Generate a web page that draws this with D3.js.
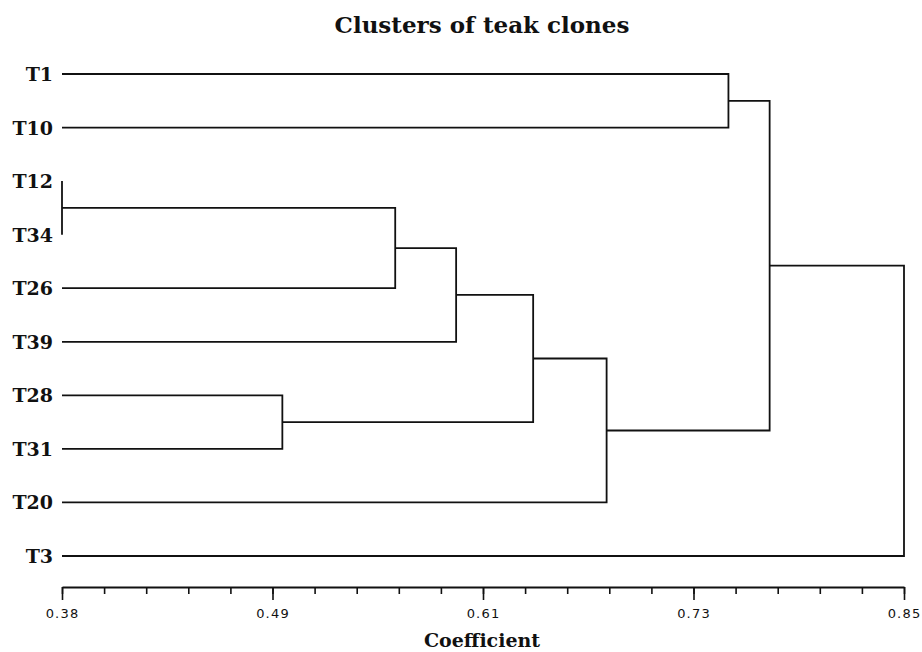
<!DOCTYPE html>
<html>
<head>
<meta charset="utf-8">
<script src="https://cdn.jsdelivr.net/npm/d3@7"></script>
<style>
  body { margin: 0; background: #fff; }
  svg { display: block; }
</style>
</head>
<body>
<div id="chart"></div>
<script>
// leaf labels, top to bottom
const LEAVES = ["T1", "T10", "T12", "T34", "T26", "T39", "T28", "T31", "T20", "T3"];

// merges: node ids 0..9 are leaves, merge i becomes node 10 + i
const MERGE_A = [2, 6, 10, 12, 13, 14, 0, 16, 17];
const MERGE_B = [3, 7, 4, 5, 11, 8, 1, 15, 9];
const MERGE_COEF = [0.38, 0.503, 0.566, 0.600, 0.643, 0.684, 0.752, 0.775, 0.85];

// axis
const AXIS_DOMAIN = [0.38, 0.85];
const TICK_LABELS = ["0.38", "0.49", "0.61", "0.73", "0.85"];

const WIDTH = 922, HEIGHT = 652;
const X_LEFT = 62, X_RIGHT = 904;
const Y_TOP = 74, Y_BOTTOM = 556;
const AXIS_Y = 587;

const svg = d3.select("#chart")
    .append("svg")
    .attr("width", WIDTH)
    .attr("height", HEIGHT);

const xScale = d3.scaleLinear()
    .domain(AXIS_DOMAIN)
    .range([X_LEFT, X_RIGHT]);

const yScale = d3.scalePoint()
    .domain(LEAVES)
    .range([Y_TOP, Y_BOTTOM]);

// node positions
const nodeX = [], nodeY = [];
LEAVES.forEach((d, i) => {
    nodeX[i] = xScale(AXIS_DOMAIN[0]);
    nodeY[i] = yScale(d);
});
MERGE_COEF.forEach((c, i) => {
    const id = LEAVES.length + i;
    nodeX[id] = xScale(c);
    nodeY[id] = (nodeY[MERGE_A[i]] + nodeY[MERGE_B[i]]) / 2;
});

// dendrogram links
svg.append("g")
    .selectAll("path")
    .data(MERGE_COEF)
    .enter()
    .append("path")
    .attr("d", (c, i) => {
        const a = MERGE_A[i], b = MERGE_B[i];
        const xm = xScale(c);
        return "M" + nodeX[a] + "," + nodeY[a] + "H" + xm + "V" + nodeY[b] + "H" + nodeX[b];
    })
    .attr("fill", "none")
    .attr("stroke", "#111")
    .attr("stroke-width", 1.8);

// leaf labels
svg.append("g")
    .selectAll("text")
    .data(LEAVES)
    .enter()
    .append("text")
    .attr("x", 53)
    .attr("y", d => yScale(d) + 7)
    .attr("text-anchor", "end")
    .attr("font-family", "DejaVu Serif")
    .attr("font-weight", "bold")
    .attr("font-size", "19px")
    .attr("fill", "#111")
    .text(d => d);

// x axis
const majorTicks = d3.range(TICK_LABELS.length).map(i =>
    AXIS_DOMAIN[0] + i * (AXIS_DOMAIN[1] - AXIS_DOMAIN[0]) / (TICK_LABELS.length - 1));
const minorTicks = d3.range(21).map(i =>
    AXIS_DOMAIN[0] + i * (AXIS_DOMAIN[1] - AXIS_DOMAIN[0]) / 20);

const axis = svg.append("g")
    .attr("transform", "translate(0," + AXIS_Y + ")");

axis.append("g")
    .call(d3.axisBottom(xScale).tickValues(minorTicks).tickSize(7).tickFormat("").tickSizeOuter(0))
    .call(g => g.select(".domain").remove())
    .selectAll("line").attr("stroke", "#111").attr("stroke-width", 1.6);

axis.append("g")
    .call(d3.axisBottom(xScale).tickValues(majorTicks).tickSize(13).tickSizeOuter(0)
        .tickFormat((d, i) => TICK_LABELS[i]))
    .call(g => g.select(".domain").attr("stroke", "#111").attr("stroke-width", 2))
    .call(g => g.selectAll("line").attr("stroke", "#111").attr("stroke-width", 1.6))
    .call(g => g.selectAll("text")
        .attr("font-family", "DejaVu Sans")
        .attr("font-size", "13px")
        .attr("letter-spacing", "1.2px")
        .attr("fill", "#111")
        .attr("dy", 0)
        .attr("y", 31));

// titles
svg.append("text")
    .attr("x", 482)
    .attr("y", 33)
    .attr("text-anchor", "middle")
    .attr("font-family", "DejaVu Serif")
    .attr("font-weight", "bold")
    .attr("font-size", "23px")
    .attr("fill", "#111")
    .text("Clusters of teak clones");

svg.append("text")
    .attr("x", 482)
    .attr("y", 647)
    .attr("text-anchor", "middle")
    .attr("font-family", "DejaVu Serif")
    .attr("font-weight", "bold")
    .attr("font-size", "19px")
    .attr("fill", "#111")
    .text("Coefficient");
</script>
</body>
</html>
